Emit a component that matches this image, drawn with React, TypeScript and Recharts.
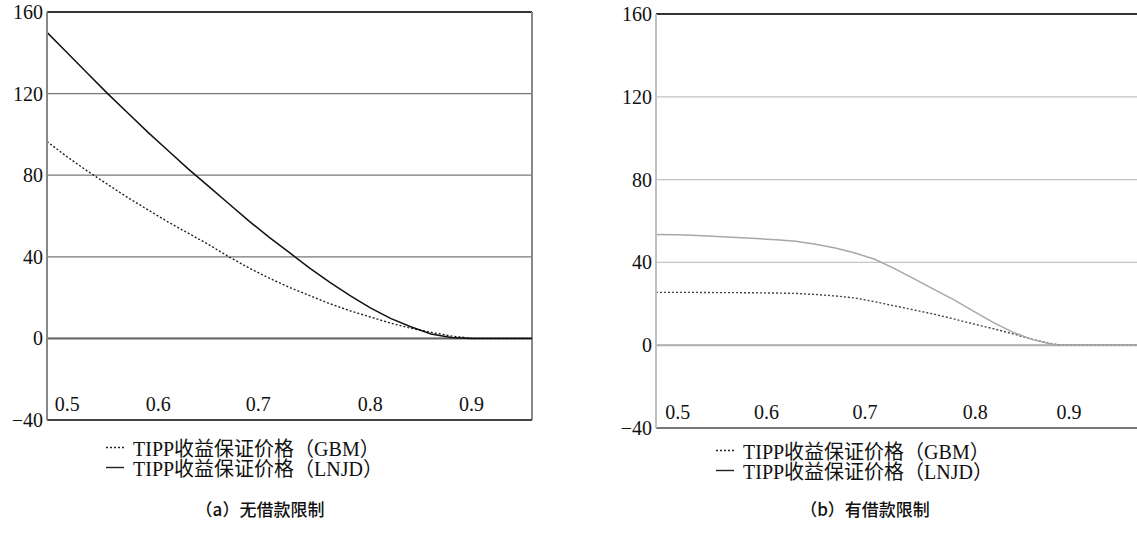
import React from "react";
import { LineChart, Line, XAxis, YAxis, CartesianGrid, ReferenceLine } from "recharts";

// ---- data ----
const leftX = [0.48, 0.5, 0.52, 0.54, 0.56, 0.58, 0.6, 0.62, 0.64, 0.66, 0.68, 0.7, 0.72, 0.74, 0.76, 0.78, 0.8, 0.82, 0.84, 0.86, 0.88, 0.9, 0.96];
const leftGBM = [96.5, 89, 82, 75.5, 69, 63, 57, 51.5, 46, 40, 34.5, 29.5, 25, 21, 17, 13.5, 10.5, 7.5, 5, 3, 1.2, 0, 0];
const leftLNJD = [150, 140, 130, 120, 110.5, 101, 92, 83, 74.5, 66, 57.5, 49.5, 42, 34.5, 27.5, 21, 15, 9.8, 5.7, 2.2, 0.4, 0, 0];

const rightX = [0.478, 0.5, 0.52, 0.54, 0.56, 0.58, 0.6, 0.62, 0.64, 0.66, 0.68, 0.7, 0.72, 0.74, 0.76, 0.78, 0.8, 0.82, 0.84, 0.86, 0.88, 0.89, 0.966];
const rightGBM = [25.5, 25.5, 25.5, 25.4, 25.4, 25.3, 25.2, 25, 24.5, 23.8, 22.8, 21, 19, 17, 15, 12.7, 10.3, 8, 5.5, 2.8, 0.6, 0, 0];
const rightLNJD = [53.5, 53.3, 53, 52.5, 52, 51.5, 51, 50.2, 48.8, 47, 44.5, 41.5, 37, 32, 27, 22, 16.5, 11, 6.3, 2.7, 0.5, 0, 0];

const leftXDomain = [0.48, 0.96];
const rightXDomain = [0.478, 0.966];
const leftXTicks = [0.5, 0.59, 0.689, 0.8, 0.9];
const rightXTicks = [0.5, 0.59, 0.69, 0.802, 0.897];
const xTickLabels = ["0.5", "0.6", "0.7", "0.8", "0.9"];

const yTicks = [-40, 0, 40, 80, 120, 160];
const yTickLabels = ["−40", "0", "40", "80", "120", "160"];

const seriesNames = ["TIPP收益保证价格（GBM）", "TIPP收益保证价格（LNJD）"];
const captions = ["（a）无借款限制", "（b）有借款限制"];

const leftData = leftX.map((x, i) => ({ x, gbm: leftGBM[i], lnjd: leftLNJD[i] }));
const rightData = rightX.map((x, i) => ({ x, gbm: rightGBM[i], lnjd: rightLNJD[i] }));

const serif = "Liberation Serif, Noto Sans CJK SC, serif";

function Legend2({ left, top }: { left: number; top: number }) {
  const styles = [
    { dash: "2 2", color: "#222" },
    { dash: undefined, color: "#222" },
  ];
  return (
    <div style={{ position: "absolute", left, top }}>
      {seriesNames.map((n, i) => (
        <div key={n} style={{ display: "flex", alignItems: "center", height: 20, fontFamily: serif, fontSize: 20, color: "#111", whiteSpace: "nowrap" }}>
          <svg width={26} height={20} style={{ marginRight: 2 }}>
            <line x1={1} x2={19} y1={10.5} y2={10.5} stroke={styles[i].color} strokeWidth={1.4} strokeDasharray={styles[i].dash} />
          </svg>
          <span>{n}</span>
        </div>
      ))}
    </div>
  );
}

function makeXTick(xTicks: number[]) {
  return (props: any) => {
    const { x, y, payload } = props;
    const idx = xTicks.indexOf(payload.value);
    return (
      <text x={x} y={y - 9} textAnchor="middle" fontFamily={serif} fontSize={20} fill="#111">
        {xTickLabels[idx] ?? ""}
      </text>
    );
  };
}

function YTick(props: any) {
  const { x, y, payload } = props;
  const idx = yTicks.indexOf(payload.value);
  return (
    <text x={x} y={y + 7} textAnchor="end" fontFamily={serif} fontSize={20} fill="#111">
      {yTickLabels[idx] ?? ""}
    </text>
  );
}

function Chart({
  data,
  domain,
  xTicks,
  width,
  height,
  top,
  theme,
}: {
  data: any[];
  domain: number[];
  xTicks: number[];
  width: number;
  height: number;
  top: number;
  theme: "left" | "right";
}) {
  const isLeft = theme === "left";
  const gridColor = isLeft ? "#777" : "#c4c4c4";
  const yAxisColor = isLeft ? "#888" : "#c0c0c0";
  const xAxisColor = isLeft ? "#444" : "#777";
  const zeroColor = isLeft ? "#666" : "#b0b0b0";
  const gbmColor = isLeft ? "#222" : "#444";
  const lnjdColor = isLeft ? "#111" : "#a8a8a8";
  return (
    <LineChart width={width} height={height} data={data} margin={{ top, right: isLeft ? 8 : 0, bottom: 9, left: 0 }}>
      <CartesianGrid horizontal vertical={false} stroke={gridColor} strokeWidth={1.3} />
      <XAxis
        type="number"
        dataKey="x"
        domain={domain}
        ticks={xTicks}
        allowDataOverflow
        height={1}
        tickSize={0}
        tickMargin={0}
        tickLine={false}
        axisLine={{ stroke: xAxisColor, strokeWidth: 2 }}
        tick={makeXTick(xTicks)}
        interval={0}
      />
      <YAxis
        type="number"
        domain={[-40, 160]}
        ticks={yTicks}
        width={47}
        tickSize={0}
        tickMargin={4}
        tickLine={false}
        axisLine={{ stroke: yAxisColor, strokeWidth: 2 }}
        tick={YTick}
        interval={0}
      />
      <ReferenceLine y={0} stroke={zeroColor} strokeWidth={2} />
      <ReferenceLine y={160} stroke="#333" strokeWidth={2} />
      {isLeft && <ReferenceLine x={domain[1]} stroke="#888" strokeWidth={2} />}
      <Line type="linear" dataKey="gbm" stroke={gbmColor} strokeWidth={1.4} strokeDasharray="2 2" dot={false} isAnimationActive={false} />
      <Line type="linear" dataKey="lnjd" stroke={lnjdColor} strokeWidth={1.5} dot={false} isAnimationActive={false} />
    </LineChart>
  );
}

export default function App() {
  const capStyle: React.CSSProperties = {
    position: "absolute",
    width: 200,
    top: 496,
    textAlign: "center",
    fontFamily: "Noto Sans CJK SC, sans-serif",
    fontSize: 17,
    fontWeight: 500,
    color: "#111",
  };
  return (
    <div style={{ position: "absolute", left: 0, top: 0, width: 1137, height: 539, background: "#fff", overflow: "hidden" }}>
      <div style={{ position: "absolute", left: 0, top: 0 }}>
        <Chart data={leftData} domain={leftXDomain} xTicks={leftXTicks} width={540} height={430} top={12} theme="left" />
      </div>
      <div style={{ position: "absolute", left: 609, top: 0 }}>
        <Chart data={rightData} domain={rightXDomain} xTicks={rightXTicks} width={528} height={438} top={14} theme="right" />
      </div>
      <Legend2 left={105} top={437} />
      <Legend2 left={715} top={440} />
      <div style={{ ...capStyle, left: 160 }}>{captions[0]}</div>
      <div style={{ ...capStyle, left: 765 }}>{captions[1]}</div>
    </div>
  );
}
